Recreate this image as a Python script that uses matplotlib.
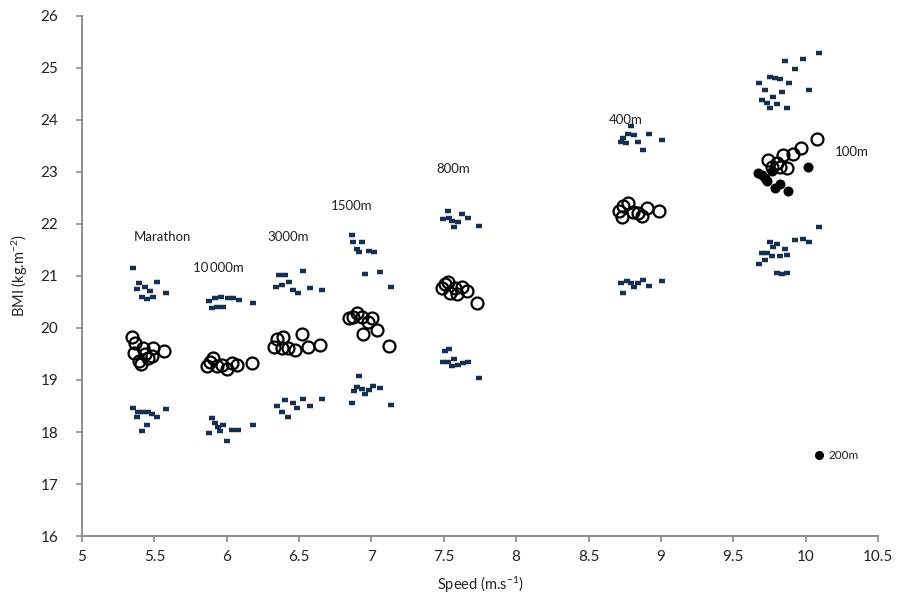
import matplotlib.pyplot as plt

plt.rcParams['font.family'] = ['Lato', 'DejaVu Sans']
plt.rcParams['mathtext.default'] = 'regular'

# ---- data (speed in m/s, BMI in kg/m2) ----
# mean BMI per athlete (open circles)
mar_x = [5.343, 5.366, 5.424, 5.359, 5.435, 5.493, 5.567, 5.406, 5.458, 5.482, 5.394]
mar_y = [19.82, 19.71, 19.61, 19.52, 19.50, 19.61, 19.55, 19.30, 19.42, 19.47, 19.37]
k10_x = [5.862, 5.908, 5.931, 5.965, 6.000, 6.035, 6.073, 6.173, 5.885]
k10_y = [19.26, 19.42, 19.26, 19.29, 19.22, 19.32, 19.29, 19.32, 19.35]
m3000_x = [6.327, 6.345, 6.391, 6.380, 6.426, 6.472, 6.518, 6.564, 6.645]
m3000_y = [19.64, 19.78, 19.83, 19.61, 19.61, 19.58, 19.88, 19.63, 19.67]
m1500_x = [6.847, 6.875, 6.903, 6.933, 6.979, 7.002, 6.940, 7.041, 7.122]
m1500_y = [20.19, 20.22, 20.28, 20.22, 20.12, 20.19, 19.88, 19.96, 19.66]
m800_x = [7.486, 7.509, 7.532, 7.543, 7.578, 7.594, 7.624, 7.663, 7.732]
m800_y = [20.76, 20.85, 20.89, 20.67, 20.76, 20.65, 20.79, 20.72, 20.49]
m400_x = [8.713, 8.741, 8.775, 8.734, 8.810, 8.845, 8.868, 8.907, 8.990]
m400_y = [22.25, 22.35, 22.40, 22.14, 22.24, 22.21, 22.15, 22.30, 22.25]
m100_x = [9.743, 9.766, 9.801, 9.842, 9.824, 9.874, 9.916, 9.967, 10.077]
m100_y = [23.24, 23.09, 23.18, 23.33, 23.09, 23.07, 23.35, 23.46, 23.63]
m200_x = [9.674, 9.697, 9.720, 9.736, 9.766, 9.824, 9.790, 9.877, 10.019]
m200_y = [22.99, 22.94, 22.88, 22.83, 23.01, 22.77, 22.69, 22.64, 23.10]

# upper / lower limits (small dashes)
up_x = [5.355, 5.396, 5.516, 5.378, 5.435, 5.470, 5.413, 5.451, 5.493, 5.578,
        5.880, 5.919, 5.958, 6.011, 6.041, 6.087, 6.184, 5.896, 5.935, 5.977,
        6.364, 6.403, 6.529, 6.341, 6.384, 6.430, 6.456, 6.491, 6.576, 6.657,
        6.864, 6.875, 6.937, 6.898, 6.916, 6.985, 7.018, 6.956, 7.059, 7.133,
        7.527, 7.497, 7.538, 7.555, 7.596, 7.628, 7.670, 7.573, 7.746,
        8.792, 8.775, 8.815, 8.921, 8.741, 8.723, 8.758, 8.845, 9.006, 8.879,
        10.093, 9.981, 9.858, 9.927, 9.755, 9.790, 9.824, 9.888, 9.680, 9.720,
        9.835, 10.026, 9.773, 9.697, 9.731, 9.801, 9.755, 9.872]
up_y = [21.15, 20.86, 20.88, 20.75, 20.78, 20.71, 20.59, 20.56, 20.59, 20.68,
        20.51, 20.57, 20.60, 20.58, 20.57, 20.54, 20.49, 20.38, 20.40, 20.41,
        21.01, 21.02, 21.10, 20.79, 20.82, 20.88, 20.74, 20.68, 20.76, 20.73,
        21.78, 21.65, 21.66, 21.52, 21.47, 21.48, 21.46, 21.03, 21.08, 20.79,
        22.25, 22.10, 22.12, 22.06, 22.03, 22.19, 22.12, 21.94, 21.96,
        23.89, 23.74, 23.71, 23.74, 23.65, 23.58, 23.55, 23.58, 23.62, 23.42,
        25.28, 25.17, 25.13, 24.98, 24.83, 24.80, 24.78, 24.72, 24.72, 24.58,
        24.53, 24.58, 24.45, 24.38, 24.33, 24.31, 24.24, 24.24]
lo_x = [5.355, 5.389, 5.424, 5.458, 5.482, 5.516, 5.578, 5.378, 5.447, 5.413,
        5.896, 5.919, 5.942, 5.977, 5.880, 5.954, 6.035, 6.080, 6.004, 6.184,
        6.403, 6.345, 6.460, 6.529, 6.488, 6.576, 6.657, 6.380, 6.426,
        6.916, 6.898, 6.880, 6.937, 6.956, 6.985, 7.013, 7.059, 6.864, 7.133,
        7.538, 7.509, 7.497, 7.527, 7.573, 7.555, 7.601, 7.631, 7.670, 7.746,
        8.723, 8.764, 8.792, 8.815, 8.845, 8.879, 8.921, 9.006, 8.741,
        10.093, 9.927, 9.981, 10.026, 9.755, 9.801, 9.858, 9.773, 9.697, 9.731,
        9.766, 9.824, 9.872, 9.720, 9.680, 9.801, 9.835, 9.872]
lo_y = [18.47, 18.38, 18.39, 18.38, 18.34, 18.29, 18.44, 18.29, 18.13, 18.01,
        18.26, 18.17, 18.09, 18.13, 17.99, 18.01, 18.04, 18.04, 17.83, 18.13,
        18.62, 18.50, 18.56, 18.63, 18.47, 18.50, 18.63, 18.38, 18.28,
        19.08, 18.86, 18.79, 18.83, 18.74, 18.81, 18.89, 18.84, 18.56, 18.51,
        19.60, 19.55, 19.34, 19.35, 19.40, 19.26, 19.29, 19.32, 19.34, 19.04,
        20.87, 20.90, 20.86, 20.79, 20.86, 20.92, 20.81, 20.90, 20.67,
        21.95, 21.69, 21.72, 21.65, 21.65, 21.62, 21.51, 21.56, 21.45, 21.44,
        21.38, 21.39, 21.40, 21.31, 21.24, 21.05, 21.04, 21.05]

# event labels and their anchor points
labels = ['Marathon', '10\u2009000m', '3000m', '1500m', '800m', '400m', '100m']
label_x = [5.36, 5.77, 6.28, 6.72, 7.45, 8.64, 10.2]
label_y = [21.75, 21.15, 21.75, 22.35, 23.05, 24.0, 23.38]

fig = plt.figure(figsize=(8.98, 6.03), dpi=100)
ax = fig.add_axes([0.0913, 0.1111, 0.8864, 0.8624])

dash_col = '#172f50'
ax.plot(up_x, up_y, linestyle='none', marker='_', markersize=5,
        markeredgewidth=3.2, color=dash_col, zorder=2)
ax.plot(lo_x, lo_y, linestyle='none', marker='_', markersize=5,
        markeredgewidth=3.2, color=dash_col, zorder=2)

ax.plot(m200_x, m200_y, linestyle='none', marker='o', markersize=6.2,
        color='black', zorder=3)
for xs, ys in [(mar_x, mar_y), (k10_x, k10_y), (m3000_x, m3000_y),
               (m1500_x, m1500_y), (m800_x, m800_y), (m400_x, m400_y),
               (m100_x, m100_y)]:
    ax.plot(xs, ys, linestyle='none', marker='o', markersize=8.6,
            markerfacecolor='none', markeredgecolor='black',
            markeredgewidth=1.6, zorder=4)

for t, x, y in zip(labels, label_x, label_y):
    ax.text(x, y, t, fontsize=9.5, ha='left', va='center', color='#222222')

# 200m key in the corner
ax.plot([10.093], [17.55], linestyle='none', marker='o', markersize=5.5, color='black')
ax.text(10.16, 17.55, '200m', fontsize=8.5, ha='left', va='center', color='#222222')

ax.set_xlim(5, 10.5)
ax.set_ylim(16, 26)
ax.set_xticks([5, 5.5, 6, 6.5, 7, 7.5, 8, 8.5, 9, 9.5, 10, 10.5])
ax.set_xticklabels(['5', '5.5', '6', '6.5', '7', '7.5', '8', '8.5', '9', '9.5', '10', '10.5'])
ax.set_yticks(range(16, 27))

for s in ['top', 'right']:
    ax.spines[s].set_visible(False)
for s in ['left', 'bottom']:
    ax.spines[s].set_color('#8c8c8c')
    ax.spines[s].set_linewidth(1.4)
ax.tick_params(axis='both', direction='out', length=4, width=1.2, color='#8c8c8c',
               labelsize=11, labelcolor='#222222')
ax.tick_params(axis='x', pad=6)
ax.tick_params(axis='y', pad=13)

ax.set_xlabel('Speed (m.s$^{-1}$)', fontsize=10.5, color='#222222', labelpad=8)
ax.set_ylabel('BMI (kg.m$^{-2}$)', fontsize=10.5, color='#222222', labelpad=8)

fig.savefig('out.png', dpi=100)
